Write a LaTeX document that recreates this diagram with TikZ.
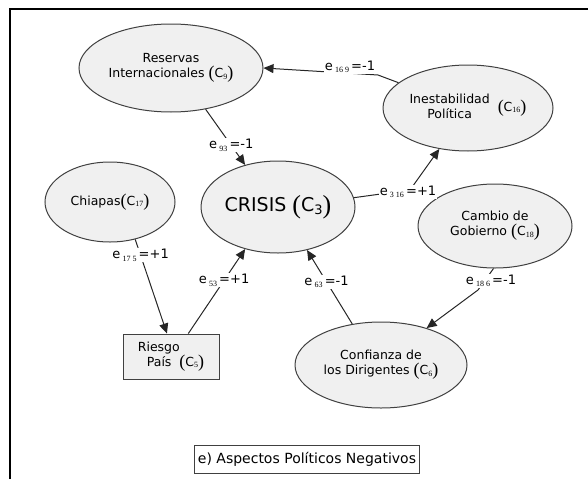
\documentclass[tikz,border=0pt]{standalone}
\usepackage{fontspec}
\setmainfont{DejaVu Sans}
\newfontfamily\subserif{Liberation Serif}
\usetikzlibrary{shapes.geometric,arrows.meta}

% tall thin brackets around a concept index
\newcommand{\lpar}{\raisebox{-1pt}{\subserif\fontsize{18}{18}\selectfont(}}
\newcommand{\rpar}{\raisebox{-1pt}{\subserif\fontsize{18}{18}\selectfont)}}
% concept index such as (C_9)
\newcommand{\cidx}[1]{\lpar C\raisebox{-1.5pt}{\subserif\fontsize{8}{8}\selectfont #1}\rpar}
% edge weight such as e_{93} =-1
\newcommand{\wlab}[2]{e\,\raisebox{-2.5pt}{\subserif\fontsize{8}{8}\selectfont #1}\,#2}

\begin{document}
\begin{tikzpicture}[x=1pt,y=-1pt,
  concept/.style={ellipse, draw=black!75, fill=black!6, line width=1pt,
    inner sep=0pt, align=center, font=\fontsize{12.5}{15}\selectfont},
  link/.style={draw=black!85, line width=1pt,
    -{Triangle[length=10pt,width=9pt]}},
  wlabel/.style={fill=white, inner sep=1pt, font=\fontsize{13}{14}\selectfont}]
\useasboundingbox (0,0) rectangle (588,479);

% outer frame
\draw[line width=2pt] (10,479) -- (10,9) -- (588,9);

% concepts
\node[concept, minimum width=184, minimum height=88] (res) at (171,68)
  {Reservas\\Internacionales \cidx{9}};
\node[concept, minimum width=170, minimum height=86] (ine) at (468,108)
  {\begin{tabular}{@{}c@{}}Inestabilidad\\Política\end{tabular}\ \ \cidx{16}};
\node[concept, minimum width=154, minimum height=92,
  font=\fontsize{19}{22}\selectfont] (cri) at (278,207)
  {CRISIS \raisebox{-1.5pt}{\subserif\fontsize{26}{26}\selectfont(}C\raisebox{-3pt}{\fontsize{13}{13}\selectfont 3}\raisebox{-1.5pt}{\subserif\fontsize{26}{26}\selectfont)}};
\node[concept, minimum width=130, minimum height=80] (chi) at (110,202)
  {Chiapas\cidx{17}};
\node[concept, minimum width=154, minimum height=84] (cam) at (495,226)
  {Cambio de\\Gobierno \cidx{18}};
\node[concept, minimum width=172, minimum height=86] (con) at (381,365)
  {Confianza de\\los Dirigentes \cidx{6}};
\node[draw=black!75, fill=black!6, line width=1pt, minimum width=96,
  minimum height=45, inner sep=0pt, align=left,
  font=\fontsize{12.5}{15}\selectfont] (rie) at (171,356.5)
  {Riesgo\\\hspace*{9pt}País \ \cidx{5}};

% caption
\node[draw=black!75, line width=1pt, inner xsep=3pt, minimum height=28,
  font=\fontsize{14}{16}\selectfont] (cap) at (307,459)
  {e) Aspectos Políticos Negativos};

% bend points of the broken connectors
\coordinate (b1) at (378,75);
\coordinate (b3) at (410,190);
\coordinate (b7) at (478,290);

% causal links
\draw[link] (ine.160) -- (b1) -- (res.east);
\node[wlabel] (w169) at (350,67) {\wlab{16 9}{=-1}};

\draw[link] (res.-50) -- node[wlabel, pos=0.65] (w93) {\wlab{93}{=-1}} (cri.128);

\draw[link] (cri.7) -- (b3) -- (ine.-125);
\node[wlabel] (w316) at (408,192) {\wlab{3 16}{=+1}};

\draw[link] (chi.-56) -- node[wlabel, pos=0.17] (w175) {\wlab{17 5}{=+1}} (rie.100);

\draw[link] (rie.53) -- node[wlabel, pos=0.63] (w53) {\wlab{53}{=+1}} (cri.-128);

\draw[link] (con.125) -- node[wlabel, pos=0.57] (w63) {\wlab{63}{=-1}} (cri.-56);

\draw[link] (cam.-92) -- (b7) -- (con.39);
\node[wlabel] (w186) at (491,281) {\wlab{18 6}{=-1}};
\end{tikzpicture}
\end{document}
